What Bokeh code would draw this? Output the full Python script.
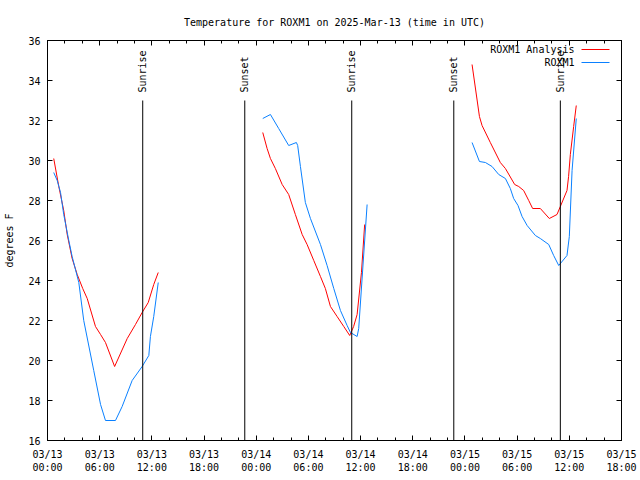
import numpy as np
import pandas as pd
from bokeh.plotting import figure
from bokeh.models import (Range1d, FixedTicker, LinearAxis, DatetimeAxis, Label,
                          CustomJSTickFormatter, ColumnDataSource, Arrow)
from bokeh.core.properties import value
from bokeh.embed import file_html
from bokeh.resources import INLINE

# ---------------- data ----------------
title_text = "Temperature for ROXM1 on 2025-Mar-13 (time in UTC)"
series_names = ["ROXM1 Analysis", "ROXM1"]
days = ["2025-03-13", "2025-03-14", "2025-03-15"]

analysis_times = [
    ["00:43", "01:18", "01:52", "02:16", "02:50", "03:25", "04:03", "04:34", "05:31", "06:06",
     "06:40", "07:43", "09:10", "10:07", "10:53", "11:35", "12:13", "12:44"],
    ["00:45", "01:15", "01:38", "02:12", "02:59", "03:44", "04:30", "05:17", "05:51", "06:37",
     "07:23", "07:57", "08:32", "09:18", "10:04", "10:45", "11:12", "11:36", "12:06", "12:28"],
    ["00:49", "01:40", "01:58", "02:55", "04:04", "04:39", "05:43", "06:11", "06:45", "07:20",
     "07:47", "08:17", "08:40", "09:42", "10:35", "10:58", "11:44", "11:55", "12:07", "12:30", "12:48"],
]
analysis_temps = [
    [30.1, 28.7, 27.5, 26.3, 25.1, 24.3, 23.6, 23.1, 21.7, 21.3,
     20.9, 19.7, 21.1, 21.8, 22.4, 22.9, 23.8, 24.4],
    [31.4, 30.6, 30.1, 29.6, 28.8, 28.3, 27.3, 26.3, 25.8, 25.0,
     24.2, 23.6, 22.7, 22.2, 21.7, 21.25, 21.7, 22.3, 24.4, 26.8],
    [34.8, 32.2, 31.75, 30.9, 29.9, 29.6, 28.8, 28.7, 28.5, 28.0,
     27.6, 27.6, 27.6, 27.1, 27.3, 27.7, 28.5, 29.2, 30.3, 31.7, 32.75],
]

obs_times = [
    ["00:43", "01:07", "01:30", "01:52", "02:27", "02:50", "03:36", "04:10", "05:19", "06:06",
     "06:40", "07:49", "08:35", "09:44", "10:53", "11:39", "11:50", "12:13", "12:44"],
    ["00:45", "01:38", "02:35", "03:44", "04:37", "04:46", "05:05", "05:39", "06:14", "07:23",
     "08:09", "08:55", "09:41", "10:27", "10:50", "11:36", "11:47", "12:45"],
    ["00:49", "01:40", "02:21", "03:07", "03:53", "04:39", "05:13", "05:36", "06:06", "06:34",
     "07:09", "08:06", "08:40", "09:38", "10:12", "10:47", "11:44", "12:00", "12:19", "12:48"],
]
obs_temps = [
    [29.4, 29.0, 28.4, 27.3, 26.0, 25.2, 23.9, 22.0, 19.5, 17.8,
     17.0, 17.0, 17.7, 19.0, 19.7, 20.25, 21.2, 22.2, 23.9],
    [32.1, 32.3, 31.6, 30.75, 30.9, 30.75, 29.7, 27.9, 27.1, 25.8,
     24.75, 23.6, 22.5, 21.75, 21.4, 21.2, 21.6, 27.8],
    [30.9, 29.95, 29.9, 29.7, 29.3, 29.1, 28.6, 28.1, 27.75, 27.2,
     26.75, 26.25, 26.1, 25.8, 25.25, 24.75, 25.25, 26.2, 29.5, 32.1],
]

sun_times = ["2025-03-13 10:57", "2025-03-13 22:41", "2025-03-14 10:59",
             "2025-03-14 22:43", "2025-03-15 10:58"]
sun_labels = ["Sunrise", "Sunset", "Sunrise", "Sunset", "Sunrise"]

x_start, x_end = "2025-03-13 00:00", "2025-03-15 18:00"
y_start, y_end = 16, 36
y_ticks = list(range(16, 37, 2))

# ---------------- style ----------------
FONT = "DejaVu Sans Mono"
FS = "10px"
RED = "#ff0000"
BLUE = "#0a80ff"

t0 = pd.Timestamp(x_start)
t1 = pd.Timestamp(x_end)
epoch = pd.Timestamp("1970-01-01")


def ms(ts):
    return int((pd.Timestamp(ts) - epoch) // pd.Timedelta("1ms"))


major = [ms(t) for t in pd.date_range(t0, t1, freq="6h")]
minor = [ms(t) for t in pd.date_range(t0, t1, freq="2h")]
xticker = FixedTicker(ticks=major, minor_ticks=minor)
yticker = FixedTicker(ticks=y_ticks, minor_ticks=[])

p = figure(width=640, height=480, output_backend="svg", toolbar_location=None,
           x_axis_type="datetime",
           x_range=Range1d(t0.to_pydatetime(), t1.to_pydatetime()),
           y_range=Range1d(y_start, y_end),
           min_border_left=47, min_border_right=19, min_border_top=40, min_border_bottom=40)

p.grid.visible = False
p.outline_line_color = "black"
p.outline_line_alpha = 1
p.outline_line_width = 1
p.background_fill_color = "white"
p.border_fill_color = "white"

p.title.text = title_text
p.title.align = "center"
p.title.text_font = FONT
p.title.text_font_size = FS
p.title.text_font_style = "normal"
p.title.text_color = "black"
p.title.standoff = 25

xfmt = CustomJSTickFormatter(code="""
const d = new Date(tick);
const pad = (n) => String(n).padStart(2, '0');
return pad(d.getUTCMonth() + 1) + '/' + pad(d.getUTCDate()) + '\\n' +
       pad(d.getUTCHours()) + ':' + pad(d.getUTCMinutes());
""")

p.xaxis.ticker = xticker
p.xaxis.formatter = xfmt
p.yaxis.ticker = yticker

for ax in p.axis:
    ax.axis_line_color = "black"
    ax.major_tick_line_color = "black"
    ax.minor_tick_line_color = "black"
    ax.major_tick_in = 5
    ax.major_tick_out = 0
    ax.minor_tick_in = 3
    ax.minor_tick_out = 0
    ax.major_label_text_font = FONT
    ax.major_label_text_font_size = FS
    ax.major_label_text_color = "black"

p.xaxis.major_label_standoff = 8
p.xaxis.major_label_text_line_height = 1.25
p.yaxis.major_label_standoff = 7
p.yaxis.axis_label = "degrees F"
p.yaxis.axis_label_text_font = FONT
p.yaxis.axis_label_text_font_size = FS
p.yaxis.axis_label_text_font_style = "normal"
p.yaxis.axis_label_text_color = "black"
p.yaxis.axis_label_standoff = 10

blank = CustomJSTickFormatter(code="return '';")
top_axis = DatetimeAxis(ticker=xticker, formatter=blank, major_tick_in=5, major_tick_out=0,
                        minor_tick_in=3, minor_tick_out=0, major_label_standoff=0,
                        major_label_text_font_size="1px", axis_line_color="black")
right_axis = LinearAxis(ticker=yticker, formatter=blank, major_tick_in=5, major_tick_out=0,
                        minor_tick_in=0, minor_tick_out=0, major_label_standoff=0,
                        major_label_text_font_size="1px", axis_line_color="black")
p.add_layout(top_axis, "above")
p.add_layout(right_axis, "right")

# ---------------- series ----------------
for times, temps, color in ((analysis_times, analysis_temps, RED), (obs_times, obs_temps, BLUE)):
    for day, tlist, vals in zip(days, times, temps):
        src = ColumnDataSource(dict(t=pd.to_datetime([f"{day} {t}" for t in tlist]), v=vals))
        p.line("t", "v", source=src, line_color=color, line_width=1)

# ---------------- sunrise / sunset ----------------
sun_dt = pd.to_datetime(sun_times)
n = len(sun_dt)
sun_src = ColumnDataSource(dict(x=sun_dt, y0=[y_start] * n, y1=[33.0] * n,
                                ty=[33.4] * n, label=sun_labels))
p.segment(x0="x", y0="y0", x1="x", y1="y1", source=sun_src, line_color="black", line_width=1)
p.text(x="x", y="ty", text="label", source=sun_src, angle=np.pi / 2, text_align="left",
       text_baseline="middle", text_font=value(FONT), text_font_size=FS, text_color="black")

# ---------------- legend (gnuplot style: text then sample) ----------------
for name, color, yy in ((series_names[0], RED, 391), (series_names[1], BLUE, 378)):
    p.add_layout(Label(x=527, y=yy, x_units="screen", y_units="screen", text=name,
                       text_align="right", text_baseline="middle", text_font=FONT,
                       text_font_size=FS, text_color="black"))
    p.add_layout(Arrow(end=None, x_start=534, y_start=yy, x_end=562, y_end=yy,
                       start_units="screen", end_units="screen", line_color=color, line_width=1))

open("out.html", "w").write(file_html(p, INLINE))
